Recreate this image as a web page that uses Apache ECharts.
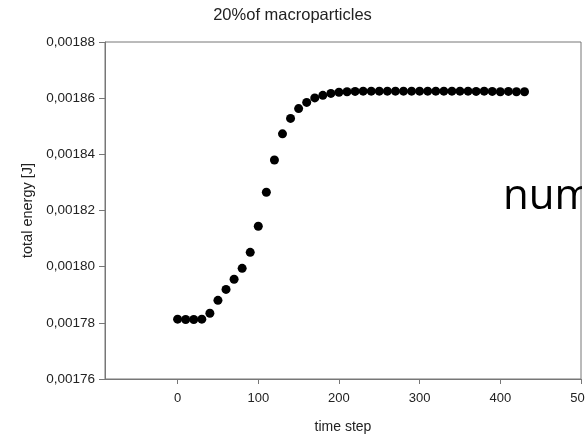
<!DOCTYPE html>
<html>
<head>
<meta charset="utf-8">
<script src="https://cdn.jsdelivr.net/npm/echarts@6/dist/echarts.min.js"></script>
<style>html,body{margin:0;padding:0;background:#fff}#c{width:585px;height:437px}</style>
</head>
<body>
<div id="c"></div>
<script>
var timeSteps = [0,10,20,30,40,50,60,70,80,90,100,110,120,130,140,150,160,170,180,190,200,210,220,230,240,250,260,270,280,290,300,310,320,330,340,350,360,370,380,390,400,410,420,430];
var energy = [0.0017813,0.0017812,0.0017812,0.0017813,0.0017834,0.0017880,0.0017919,0.0017955,0.0017994,0.0018051,0.0018144,0.0018265,0.0018380,0.0018473,0.0018528,0.0018563,0.0018585,0.0018601,0.0018610,0.0018617,0.0018621,0.0018623,0.0018624,0.0018625,0.0018625,0.0018625,0.0018625,0.0018625,0.0018625,0.0018625,0.0018625,0.0018625,0.0018625,0.0018625,0.0018625,0.0018625,0.0018625,0.0018624,0.0018625,0.0018624,0.0018623,0.0018624,0.0018623,0.0018623];
var xTicks = [0,100,200,300,400,500];
var yTicks = [0.00176,0.00178,0.00180,0.00182,0.00184,0.00186,0.00188];
var titleText = '20%of macroparticles';
var xName = 'time step';
var yName = 'total energy [J]';
var overlayText = 'num';

var chart = echarts.init(document.getElementById('c'), null, {renderer:'canvas'});
var ff = '"Liberation Sans", Arial, sans-serif';
var axisCol = '#777';
var txtCol = '#222';
chart.setOption({
  animation: false,
  backgroundColor: '#fff',
  title: {
    text: titleText, left: 'center', top: 2,
    textStyle: {fontFamily: ff, fontSize: 16.5, fontWeight: 'normal', color: txtCol}
  },
  grid: {left: 105, right: 4, top: 42, bottom: 58, show: true, borderColor: axisCol, borderWidth: 1, backgroundColor: 'transparent', containLabel: false, outerBoundsMode: 'none'},
  xAxis: {
    type: 'value', min: -90, max: 500,
    name: xName, nameLocation: 'middle', nameGap: 41,
    nameTextStyle: {fontFamily: ff, fontSize: 14, color: txtCol},
    axisLine: {show: true, onZero: false, lineStyle: {color: axisCol, width: 1}},
    axisTick: {show: true, length: 5, customValues: xTicks, lineStyle: {color: axisCol}},
    axisLabel: {customValues: xTicks, margin: 13, fontFamily: ff, fontSize: 13, color: txtCol, hideOverlap: false},
    splitLine: {show: false}
  },
  yAxis: {
    type: 'value', min: 0.00176, max: 0.00188,
    name: yName, nameLocation: 'middle', nameRotate: 90, nameGap: 70,
    nameTextStyle: {fontFamily: ff, fontSize: 14.5, color: txtCol},
    axisLine: {show: true, onZero: false, lineStyle: {color: axisCol, width: 1}},
    axisTick: {show: true, length: 6, customValues: yTicks, lineStyle: {color: axisCol}},
    axisLabel: {customValues: yTicks, margin: 10, fontFamily: ff, fontSize: 13.5, color: txtCol,
      formatter: function (v) { return v.toFixed(5).replace('.', ','); }},
    splitLine: {show: false}
  },
  series: [{
    type: 'scatter',
    data: timeSteps.map(function (t, i) { return [t, energy[i]]; }),
    symbol: 'circle', symbolSize: 9,
    itemStyle: {color: '#000', opacity: 1}
  }],
  graphic: [
    {type: 'text', left: 503, top: 176, z: 100,
     style: {text: overlayText, fontFamily: '"Open Sans", "Noto Sans", sans-serif', fontSize: 42, fill: '#000'}},
    {type: 'rect', shape: {x: 582, y: 160, width: 10, height: 60}, z: 101, style: {fill: '#fff'}}
  ]
});
</script>
</body>
</html>
